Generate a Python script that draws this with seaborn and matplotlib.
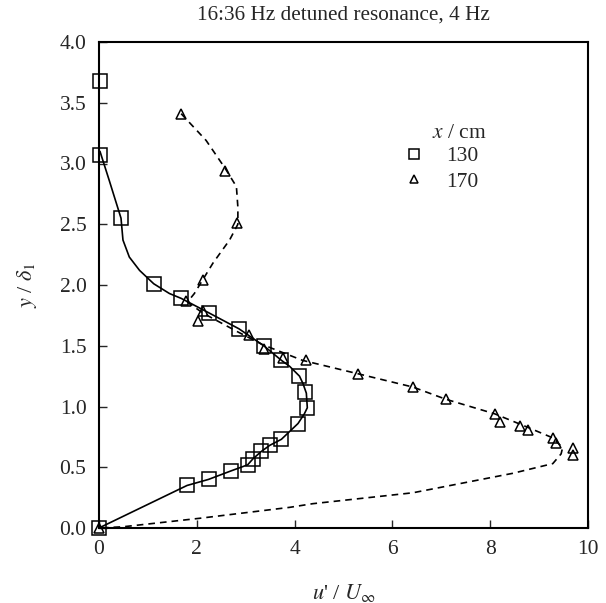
import matplotlib
matplotlib.use("Agg")
import matplotlib.pyplot as plt
import pandas as pd
import seaborn as sns
from matplotlib.lines import Line2D

# measured points, x = 130 cm (squares)
u130 = [0.03, 0.03, 0.45, 1.12, 1.68, 2.25, 2.86, 3.37, 3.73, 4.10, 4.22, 4.26,
        4.07, 3.73, 3.49, 3.32, 3.15, 3.04, 2.70, 2.24, 1.80, 0.0]
y130 = [3.68, 3.07, 2.55, 2.01, 1.89, 1.77, 1.64, 1.50, 1.38, 1.25, 1.12, 0.99,
        0.86, 0.73, 0.68, 0.63, 0.57, 0.52, 0.47, 0.40, 0.35, 0.0]

# measured points, x = 170 cm (triangles)
u170 = [1.68, 2.58, 2.83, 2.12, 1.77, 2.12, 2.02, 3.06, 3.38, 3.76, 4.24, 5.29,
        6.42, 7.09, 8.09, 8.20, 8.60, 8.77, 9.29, 9.34, 9.69, 9.69, 0.0]
y170 = [3.41, 2.94, 2.51, 2.04, 1.87, 1.79, 1.70, 1.59, 1.47, 1.40, 1.38, 1.27,
        1.16, 1.06, 0.94, 0.87, 0.84, 0.81, 0.74, 0.70, 0.66, 0.60, 0.0]

# hand-drawn fit curves
fit130_u = [0.02, 0.21, 0.45, 0.49, 0.62, 0.83, 1.12, 1.44, 1.68, 2.25, 2.86, 3.37,
            3.73, 3.90, 4.10, 4.17, 4.24, 4.26, 4.20, 4.07, 3.73, 3.49, 3.32, 3.15,
            3.04, 2.70, 2.24, 1.80, 0.0]
fit130_y = [3.10, 2.86, 2.55, 2.37, 2.23, 2.12, 2.01, 1.93, 1.89, 1.77, 1.64, 1.50,
            1.38, 1.33, 1.25, 1.19, 1.11, 0.99, 0.94, 0.86, 0.73, 0.68, 0.63, 0.57,
            0.52, 0.47, 0.40, 0.35, 0.0]

fit170_u = [1.68, 2.19, 2.58, 2.81, 2.84, 2.84, 2.67, 2.33, 1.95, 1.81, 2.12, 2.81,
            3.34, 4.16, 5.29, 6.42, 7.09, 8.09, 8.70, 9.29, 9.48, 9.45, 9.28, 8.46,
            6.42, 4.37, 3.90, 2.06, 0.49, 0.0]
fit170_y = [3.41, 3.19, 2.96, 2.81, 2.64, 2.50, 2.37, 2.18, 1.93, 1.86, 1.77, 1.62,
            1.51, 1.38, 1.27, 1.16, 1.06, 0.94, 0.84, 0.74, 0.66, 0.61, 0.53, 0.45,
            0.29, 0.20, 0.17, 0.08, 0.01, 0.0]

sns.set_style("ticks")
plt.rcParams["font.family"] = ["Liberation Serif", "DejaVu Serif"]
plt.rcParams["mathtext.fontset"] = "stix"

fig = plt.figure(figsize=(6.06, 6.03), dpi=100)
ax = fig.add_axes([99 / 606, 1 - 528 / 603, 489 / 606, 486 / 603])

fit130 = pd.DataFrame({"u": fit130_u, "y": fit130_y})
fit170 = pd.DataFrame({"u": fit170_u, "y": fit170_y})
sns.lineplot(data=fit130, x="u", y="y", sort=False, estimator=None, color="black",
             lw=1.2, ax=ax)
sns.lineplot(data=fit170, x="u", y="y", sort=False, estimator=None, color="black",
             lw=1.2, ax=ax, dashes=False, linestyle=(0, (4, 3)))

ax.plot(u130, y130, ls="none", marker="s", ms=9.5, mfc="none", mec="black",
        mew=1.1, clip_on=False, zorder=5)
ax.plot(u170, y170, ls="none", marker="^", ms=7, mfc="none", mec="black",
        mew=1.1, clip_on=False, zorder=5)

ax.set_xlim(0, 10)
ax.set_ylim(0, 4)
ax.set_xticks([0, 2, 4, 6, 8, 10])
ax.set_yticks([0, 0.5, 1, 1.5, 2, 2.5, 3, 3.5, 4])
ax.set_yticklabels(["0.0", "0.5", "1.0", "1.5", "2.0", "2.5", "3.0", "3.5", "4.0"])
ax.tick_params(direction="in", length=6, width=1, labelsize=15.5, pad=9,
               top=False, right=False)
for s in ax.spines.values():
    s.set_linewidth(1.5)
    s.set_color("black")

ax.set_xlabel(r"$u$' / $U_{\infty}$", fontsize=16, labelpad=16)
ax.set_ylabel(r"$y$ / $\delta_1$", fontsize=16, labelpad=15)

fig.text(343 / 606, 1 - 15 / 603, "16:36 Hz detuned resonance, 4 Hz",
         ha="center", va="center", fontsize=15.3)

# legend heading placed as text, entries as a frameless legend
ax.text((432 - 99) / 489, (528 - 133) / 486, r"$x$ / cm", transform=ax.transAxes,
        ha="left", va="center", fontsize=15.5)
handles = [
    Line2D([], [], ls="none", marker="s", ms=7, mfc="none", mec="black", mew=1.1),
    Line2D([], [], ls="none", marker="^", ms=5.5, mfc="none", mec="black", mew=1.1),
]
ax.legend(handles, ["130", "170"], loc="upper left",
          bbox_to_anchor=((405 - 99) / 489, (528 - 146) / 486), frameon=False,
          fontsize=15.5, handlelength=0.8, handletextpad=1.1,
          labelspacing=0.25, borderaxespad=0, borderpad=0)

fig.savefig("out.png", dpi=100)
